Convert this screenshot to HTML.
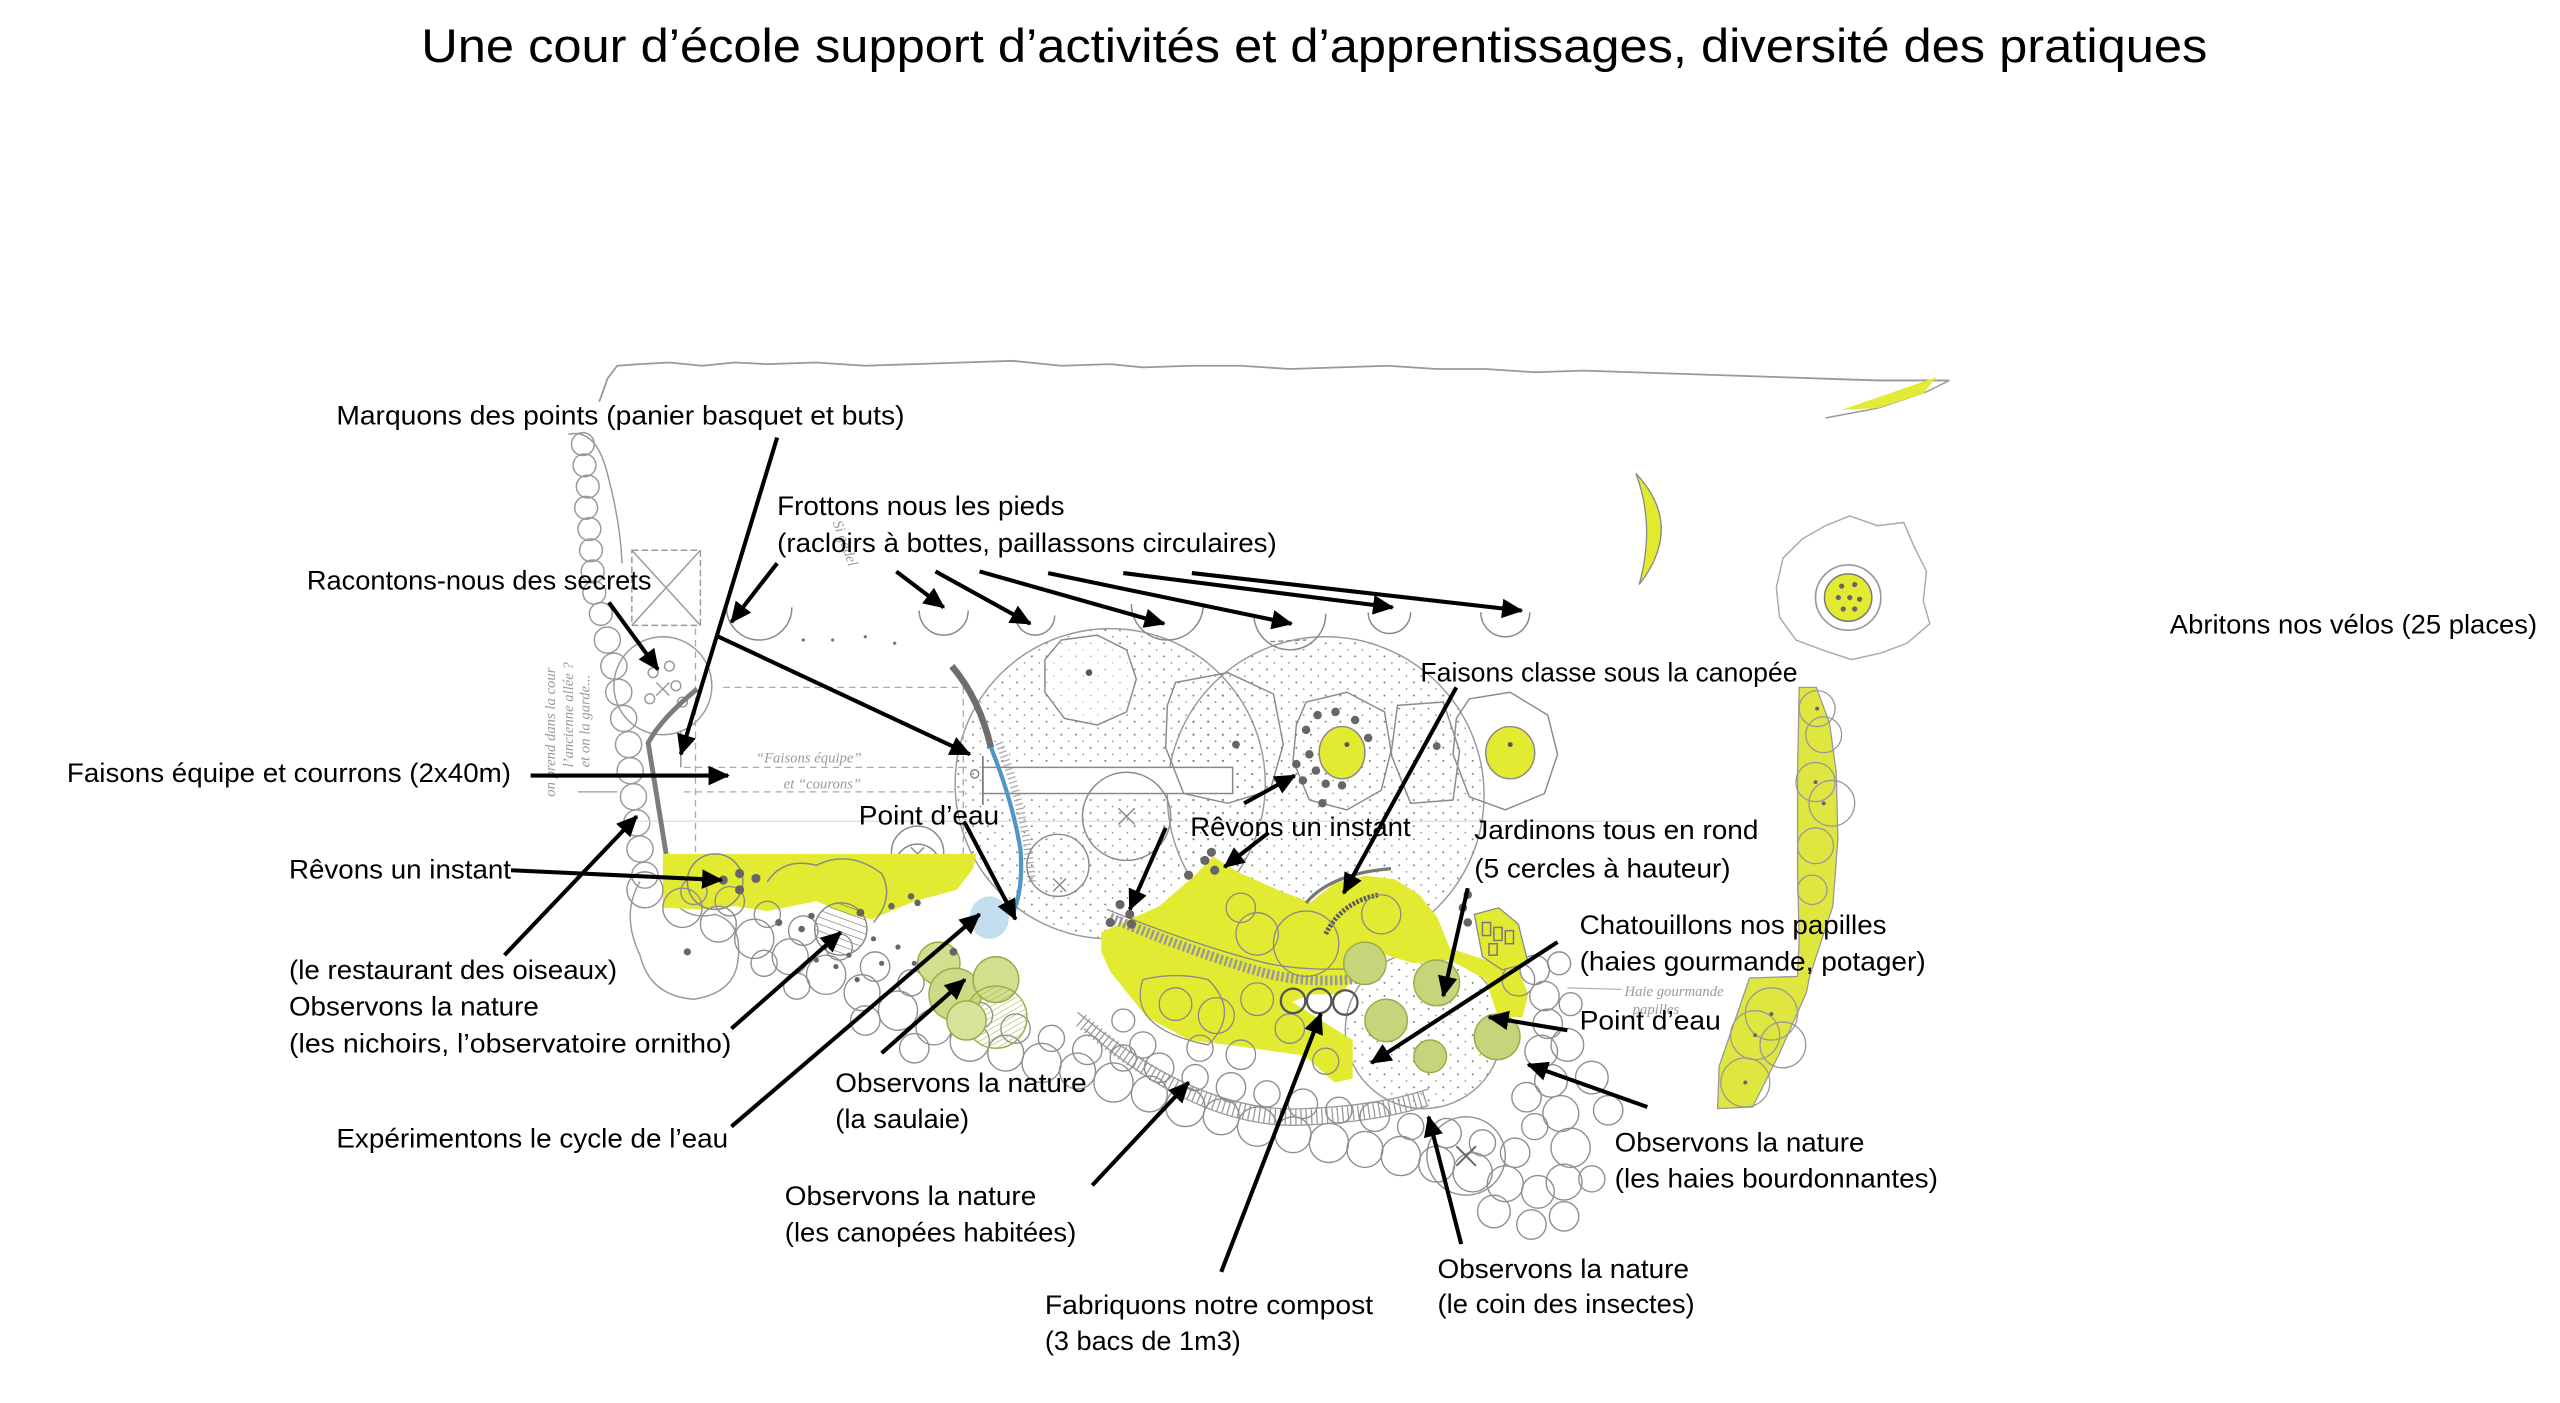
<!DOCTYPE html>
<html><head><meta charset="utf-8">
<style>
html,body{margin:0;padding:0;background:#fff;}
svg{display:block;}
.lb{font-family:"Liberation Sans",Arial,sans-serif;font-size:16.5px;fill:#000;}
.hw{font-family:"Liberation Serif",serif;font-style:italic;font-size:9px;fill:#9a9a9a;}
</style></head>
<body>
<svg xmlns="http://www.w3.org/2000/svg" width="2560" height="1403" viewBox="0 0 1568 859.3" preserveAspectRatio="none">
<defs>
<marker id="ah" markerUnits="userSpaceOnUse" markerWidth="14" markerHeight="12" refX="12" refY="6" orient="auto"><path d="M0,0 L13,6 L0,12 Z" fill="#000"/></marker>
<pattern id="dots" width="9" height="8" patternUnits="userSpaceOnUse"><circle cx="2" cy="2" r="0.6" fill="#777"/><circle cx="6.5" cy="6" r="0.5" fill="#888"/></pattern>
<pattern id="hatch" width="4" height="4" patternUnits="userSpaceOnUse" patternTransform="rotate(20)"><line x1="0" y1="0" x2="4" y2="0" stroke="#777" stroke-width="0.8"/></pattern>
<pattern id="ghatch" width="3" height="3" patternUnits="userSpaceOnUse" patternTransform="rotate(60)"><line x1="0" y1="0" x2="0" y2="3" stroke="#9fb548" stroke-width="0.7"/></pattern>
</defs>
<rect x="0" y="0" width="1568" height="860" fill="#fff"/>

<!-- Title -->
<text x="258" y="38" font-family="Liberation Sans, Arial, sans-serif" font-size="29" textLength="1094" lengthAdjust="spacingAndGlyphs" fill="#000">Une cour d’école support d’activités et d’apprentissages, diversité des pratiques</text>

<!-- ============ SKETCH ============ -->
<g fill="none" stroke="#8c8c8c" stroke-width="0.9">
  <polyline points="367,246 370,238 372,232 378,224 392,223 410,222 430,224 450,222 470,223 500,222 530,224 560,223 590,222 620,221 650,224 680,223 700,225 730,224 760,224 790,226 820,225 850,224 880,226 910,226 940,228 970,227 1000,228 1030,229 1060,230 1090,231 1120,232 1150,233 1175,233 1194,233" stroke="#999" stroke-width="1.1"/>
  <path d="M1194,233 L1180,240 L1150,250 L1118,256" stroke="#999"/>
</g>
<path d="M1128,251 L1160,240 L1186,231 L1178,241 L1150,250 Z" fill="#e4eb34"/>
<path d="M1002,290 Q1032,322 1004,358 Q1014,322 1002,290 Z" fill="#e2ea30" stroke="#888" stroke-width="0.8"/>
<!-- bike shelter -->
<path d="M1133,316 L1150,322 L1166,320 L1172,334 L1180,350 L1178,368 L1182,382 L1168,394 L1152,400 L1134,404 L1116,398 L1100,392 L1090,378 L1088,360 L1092,342 L1104,330 L1118,322 Z" fill="none" stroke="#aaa" stroke-width="0.9"/>
<circle cx="1132" cy="366" r="20" fill="none" stroke="#999" stroke-width="1"/>
<circle cx="1132" cy="366" r="14.5" fill="#e2ea32" stroke="#777" stroke-width="0.9"/>
<g fill="#666"><circle cx="1128" cy="359" r="1.6"/><circle cx="1136" cy="358" r="1.6"/><circle cx="1126" cy="366" r="1.6"/><circle cx="1133" cy="366" r="1.6"/><circle cx="1139" cy="367" r="1.6"/><circle cx="1129" cy="373" r="1.6"/><circle cx="1136" cy="373" r="1.6"/></g>

<!-- right yellow strip -->
<path d="M1102,421 L1112.5,421 L1120.6,443 L1124.7,473 L1125.7,514 L1122.6,555 L1108.4,598 L1106.4,608 L1090,645 L1073.5,678 L1052,679 L1053,653 L1071.6,599 L1101,598 L1102,575 L1101,535 L1101,473 Z" fill="#dfe640" stroke="#999" stroke-width="0.8"/>
<g fill="none" stroke="#999" stroke-width="0.8">
<circle cx="1113" cy="434" r="11"/><circle cx="1117" cy="450" r="11"/><circle cx="1112" cy="479" r="12"/><circle cx="1122" cy="492" r="14"/><circle cx="1112" cy="518" r="11"/><circle cx="1110" cy="545" r="9"/>
<circle cx="1085" cy="621" r="16"/><circle cx="1075" cy="634" r="15"/><circle cx="1069" cy="663" r="15"/><circle cx="1092" cy="640" r="14"/>
</g>
<g fill="#666"><circle cx="1113" cy="434" r="1.2"/><circle cx="1112" cy="479" r="1.2"/><circle cx="1117" cy="492" r="1.2"/><circle cx="1085" cy="621" r="1.2"/><circle cx="1075" cy="634" r="1.2"/><circle cx="1069" cy="663" r="1.2"/></g>

<!-- canopy big dotted circles -->
<circle cx="680" cy="480" r="95" fill="url(#dots)" stroke="#9a9a9a" stroke-width="0.9"/>
<circle cx="812" cy="487" r="97" fill="url(#dots)" stroke="#9a9a9a" stroke-width="0.9"/>
<circle cx="872" cy="631" r="48" fill="url(#dots)" stroke="#9a9a9a" stroke-width="0.9"/>

<!-- U semicircles -->
<g fill="none" stroke="#888" stroke-width="0.9">
<path d="M445,372 A20,20 0 0 0 485,372"/>
<path d="M563,374 A15,15 0 0 0 593,374"/>
<path d="M622,377 A12,12 0 0 0 646,377"/>
<path d="M693,370 A22,22 0 0 0 737,370"/>
<path d="M768,376 A22,22 0 0 0 812,376"/>
<path d="M838,375 A13,13 0 0 0 864,375"/>
<path d="M907,375 A15,15 0 0 0 937,375"/>
<path d="M778,393 L800,392" stroke-dasharray="3 2"/>
</g>
<g fill="#777"><circle cx="510" cy="392" r="1"/><circle cx="530" cy="390" r="1"/><circle cx="548" cy="394" r="1"/><circle cx="492" cy="392" r="1"/></g>

<!-- left column -->
<g fill="none" stroke="#999" stroke-width="0.9">
<circle cx="357" cy="272" r="7"/><circle cx="358" cy="285" r="7"/><circle cx="360" cy="298" r="7"/><circle cx="359" cy="311" r="7"/><circle cx="361" cy="324" r="7"/><circle cx="362" cy="337" r="7"/><circle cx="363" cy="350" r="7"/><circle cx="364" cy="363" r="7"/><circle cx="368" cy="376" r="7"/>
<circle cx="372" cy="392" r="8"/><circle cx="376" cy="408" r="8"/><circle cx="379" cy="424" r="8"/><circle cx="382" cy="440" r="8"/><circle cx="385" cy="456" r="8"/><circle cx="386" cy="472" r="8"/><circle cx="388" cy="488" r="8"/><circle cx="390" cy="504" r="8"/><circle cx="392" cy="520" r="8"/><circle cx="395" cy="536" r="8"/>
<path d="M348,266 Q365,262 372,290 Q380,320 381,345"/>
<rect x="387" y="337" width="42" height="46" stroke-dasharray="4 2"/>
<path d="M387,337 L429,383 M429,337 L387,383"/>
<circle cx="406" cy="420" r="30"/>
<circle cx="400" cy="412" r="3"/><circle cx="410" cy="408" r="3"/><circle cx="414" cy="420" r="3"/><circle cx="398" cy="428" r="3"/><circle cx="418" cy="430" r="3"/>
<path d="M402,418 L410,426 M410,418 L402,426"/>
<path d="M392,540 Q380,560 392,585 Q398,610 425,612 Q450,608 452,588 Q455,565 438,560 Q418,565 408,545"/>
</g>
<!-- dashed lines / road -->
<g fill="none" stroke="#aaa" stroke-width="0.8" stroke-dasharray="4 3">
<line x1="443" y1="421" x2="592" y2="421"/>
<line x1="419" y1="470" x2="592" y2="470"/>
<line x1="419" y1="485" x2="592" y2="485"/>
<line x1="426" y1="385" x2="426" y2="523"/>
<line x1="590" y1="421" x2="590" y2="523"/>
</g>
<line x1="354" y1="485" x2="378" y2="485" stroke="#999" stroke-width="0.8"/>
<line x1="380" y1="503" x2="1000" y2="503" stroke="#ddd" stroke-width="0.8"/>
<rect x="602" y="470" width="153" height="16" fill="#fff" stroke="#888" stroke-width="0.9"/>
<line x1="602" y1="463" x2="602" y2="493" stroke="#777" stroke-width="1"/>
<circle cx="597" cy="474" r="2.5" fill="none" stroke="#777" stroke-width="0.8"/>
<line x1="417" y1="448" x2="417" y2="470" stroke="#888" stroke-width="0.8"/>
<path d="M427,422 Q405,440 397,455 L408,523" fill="none" stroke="#7c7c7c" stroke-width="3"/>

<!-- stream -->
<path d="M583,408 Q600,428 607,458" fill="none" stroke="#6e6e6e" stroke-width="4"/>
<path d="M607,458 Q620,490 625,520 Q627,545 620,560" fill="none" stroke="#4f97c4" stroke-width="2.6"/>
<ellipse cx="606" cy="562" rx="12" ry="13" fill="#a8d0e8" opacity="0.7"/>
<path d="M612,455 Q628,495 632,540" fill="none" stroke="#aaa" stroke-width="5" stroke-dasharray="0.8 2"/>

<!-- other canopy circles -->
<g fill="none" stroke="#8a8a8a" stroke-width="0.9">
<path d="M650,392 L672,389 L690,398 L696,416 L690,436 L672,444 L652,440 L640,424 L640,404 Z" fill="#fff" fill-opacity="0.5"/>
<circle cx="690" cy="500" r="27"/>
<path d="M685,495 L695,505 M695,495 L685,505"/>
<path d="M800,430 L825,424 L848,436 L852,460 L846,484 L825,496 L802,490 L792,466 L794,444 Z"/>
<path d="M900,428 L925,424 L948,438 L954,462 L946,486 L922,496 L900,488 L890,462 L892,440 Z"/>
<path d="M720,418 L752,412 L780,425 L786,456 L778,484 L752,492 L725,486 L714,458 L715,432 Z"/>
<path d="M856,432 L884,430 L894,460 L890,490 L864,492 L852,462 Z"/>
<circle cx="648" cy="530" r="19"/>
<path d="M645,538 L653,546 M653,538 L645,546"/>
<circle cx="562" cy="522" r="16"/>
<path d="M558,519 L566,527 M566,519 L558,527"/>
<circle cx="562" cy="531" r="14"/>
</g>
<circle cx="667" cy="412" r="2" fill="#555"/>

<!-- left yellow band -->
<path d="M406,523 L598,523 L596,532 L586,545 L560,552 L534,563 L520,560 L500,552 L480,556 L470,558 L450,555 L430,557 L406,556 Z" fill="#e2ea32"/>
<circle cx="515" cy="569" r="16" fill="url(#hatch)" stroke="#888" stroke-width="0.9"/>
<g fill="none" stroke="#888" stroke-width="0.9">
<path d="M470,540 Q480,525 500,530 Q520,520 540,535 Q548,550 535,565"/>
<circle cx="438" cy="540" r="17"/>
</g>

<!-- central yellow blob -->
<path d="M674.5,571 L710,555 L732,536 L743,524.5 L758,534 L784,545.6 L802.6,552.7 L817.4,541 L836,536.3 L854.5,538.6 L869.4,548 L880.5,562 L888,580.8 L910,588 L928.7,590 L936,609 L932.5,623 L917.6,623 L910,600 L888,588 L865.6,590 L843,583 L821,609 L802.6,609 L791.4,613.6 L810,625.4 L828.5,637 L828.5,660.6 L817.4,663 L798.8,646.5 L765.5,641.8 L728.4,637 L702.4,623 L691.2,609 L680,595 L674.5,583 Z" fill="#e2ea32"/>
<ellipse cx="822" cy="461" rx="14" ry="16" fill="#e2ea32" stroke="#888" stroke-width="0.9"/>
<ellipse cx="925" cy="461" rx="15" ry="16" fill="#e2ea32" stroke="#888" stroke-width="0.9"/>
<circle cx="825" cy="456" r="1.5" fill="#555"/><circle cx="925" cy="456" r="1.5" fill="#555"/>
<path d="M680,562 Q735,585 775,596 Q805,604 845,598" fill="none" stroke="#999" stroke-width="6" stroke-dasharray="1.5 1.5"/>
<path d="M678,557 Q735,580 776,590 Q805,596 845,592" fill="none" stroke="#888" stroke-width="0.8"/>
<path d="M812,572 Q822,552 845,548" fill="none" stroke="#5a5a5a" stroke-width="3" stroke-dasharray="1.5 1"/>
<path d="M800,553 Q815,535 852,532" fill="none" stroke="#777" stroke-width="2"/>
<g fill="none" stroke="#8a8a8a" stroke-width="0.8">
<circle cx="770" cy="572" r="13"/><circle cx="800" cy="578" r="20"/><circle cx="760" cy="556" r="9"/><circle cx="846" cy="560" r="12"/>
<path d="M700,600 Q690,630 740,640 Q760,620 740,600 Q720,595 700,600"/>
<circle cx="720" cy="615" r="10"/><circle cx="745" cy="622" r="11"/><circle cx="770" cy="612" r="10"/><circle cx="790" cy="630" r="9"/><circle cx="735" cy="642" r="8"/><circle cx="760" cy="646" r="9"/><circle cx="812" cy="650" r="8"/><circle cx="700" cy="640" r="8"/><circle cx="688" cy="625" r="7"/>
</g>
<g fill="none" stroke="#555" stroke-width="1.4">
<circle cx="792" cy="613" r="7.5"/><circle cx="808" cy="613" r="7.5"/><circle cx="824" cy="614" r="7.5"/>
</g>

<!-- hatched arc band -->
<path d="M662,625 Q735,688 800,684 Q845,682 875,672" fill="none" stroke="#999" stroke-width="9" stroke-dasharray="0.8 2.4"/>
<path d="M660,620 Q735,683 800,679 Q845,677 875,667" fill="none" stroke="#999" stroke-width="0.8"/>
<path d="M664,630 Q735,693 800,689 Q845,687 875,677" fill="none" stroke="#999" stroke-width="0.8"/>

<!-- hedge circles -->
<g fill="none" stroke="#8e8e8e" stroke-width="0.85">
<circle cx="395" cy="545" r="11"/><circle cx="418" cy="556" r="12"/><circle cx="440" cy="566" r="11"/><circle cx="462" cy="575" r="12"/><circle cx="484" cy="586" r="11"/><circle cx="506" cy="597" r="12"/><circle cx="528" cy="608" r="11"/><circle cx="550" cy="619" r="12"/><circle cx="572" cy="629" r="11"/><circle cx="594" cy="638" r="12"/><circle cx="616" cy="645" r="11"/><circle cx="638" cy="651" r="12"/><circle cx="660" cy="656" r="11"/><circle cx="682" cy="663" r="12"/><circle cx="704" cy="670" r="11"/><circle cx="726" cy="678" r="12"/><circle cx="748" cy="684" r="11"/><circle cx="770" cy="690" r="12"/><circle cx="792" cy="695" r="11"/><circle cx="814" cy="700" r="12"/><circle cx="836" cy="704" r="11"/><circle cx="858" cy="708" r="12"/><circle cx="880" cy="713" r="11"/><circle cx="902" cy="718" r="12"/><circle cx="922" cy="725" r="11"/><circle cx="942" cy="730" r="10"/><circle cx="958" cy="724" r="11"/><circle cx="962" cy="703" r="12"/><circle cx="956" cy="682" r="11"/><circle cx="950" cy="662" r="10"/><circle cx="944" cy="644" r="10"/><circle cx="948" cy="627" r="9"/><circle cx="946" cy="610" r="9"/><circle cx="940" cy="594" r="9"/>
<circle cx="425" cy="546" r="8"/><circle cx="447" cy="552" r="9"/><circle cx="470" cy="560" r="8"/><circle cx="492" cy="570" r="9"/><circle cx="514" cy="580" r="8"/><circle cx="536" cy="592" r="9"/><circle cx="558" cy="602" r="8"/><circle cx="580" cy="612" r="9"/><circle cx="600" cy="622" r="8"/><circle cx="622" cy="630" r="9"/><circle cx="644" cy="636" r="8"/><circle cx="666" cy="643" r="9"/><circle cx="688" cy="648" r="8"/><circle cx="710" cy="654" r="9"/><circle cx="732" cy="660" r="8"/><circle cx="754" cy="666" r="9"/><circle cx="776" cy="670" r="8"/><circle cx="798" cy="676" r="9"/><circle cx="820" cy="680" r="8"/><circle cx="842" cy="684" r="9"/><circle cx="864" cy="690" r="8"/><circle cx="886" cy="694" r="9"/><circle cx="908" cy="700" r="8"/><circle cx="928" cy="706" r="9"/><circle cx="940" cy="690" r="8"/><circle cx="935" cy="672" r="9"/>
<circle cx="898" cy="708" r="24"/><circle cx="915" cy="742" r="10"/><circle cx="938" cy="750" r="9"/><circle cx="958" cy="745" r="9"/><circle cx="975" cy="722" r="8"/>
<circle cx="930" cy="600" r="10"/><circle cx="960" cy="640" r="10"/><circle cx="975" cy="660" r="10"/><circle cx="985" cy="680" r="9"/><circle cx="955" cy="590" r="7"/><circle cx="962" cy="615" r="7"/>
<circle cx="468" cy="590" r="8"/><circle cx="488" cy="604" r="8"/><circle cx="530" cy="625" r="9"/><circle cx="560" cy="642" r="9"/>
</g>
<path d="M892,702 L904,714 M904,702 L892,714" stroke="#666" stroke-width="1.2"/>

<!-- green circles -->
<g stroke="#98ad4a" stroke-width="0.9">
<circle cx="575" cy="590" r="13" fill="#d3df8e"/>
<circle cx="585" cy="609" r="16" fill="#cddb86"/>
<circle cx="610" cy="600" r="14" fill="#d3df8e"/>
<circle cx="610" cy="623" r="19" fill="url(#ghatch)"/>
<circle cx="592" cy="625" r="12" fill="#d8e39a"/>
<circle cx="836" cy="590" r="13" fill="#c4d57c"/>
<circle cx="849" cy="625" r="13" fill="#c4d57c"/>
<circle cx="880" cy="602" r="14" fill="#c4d57c"/>
<circle cx="876" cy="647" r="10" fill="#c4d57c"/>
<circle cx="917" cy="635" r="14" fill="#c4d57c"/>
</g>
<path d="M903,560 L918,556 L930,566 L936,590 L920,594 L908,586 Z" fill="#e2ea32" stroke="#888" stroke-width="0.8"/>
<g stroke="#777" stroke-width="0.9" fill="none"><rect x="908" y="565" width="5" height="8"/><rect x="915" y="568" width="5" height="8"/><rect x="922" y="570" width="5" height="8"/><rect x="912" y="578" width="5" height="7"/></g>

<!-- dark dots -->
<g fill="#666">
<circle cx="800" cy="447" r="2.6"/><circle cx="807" cy="438" r="2.6"/><circle cx="818" cy="436" r="2.6"/><circle cx="830" cy="441" r="2.6"/><circle cx="838" cy="452" r="2.6"/><circle cx="802" cy="462" r="2.6"/><circle cx="806" cy="472" r="2.6"/><circle cx="812" cy="480" r="2.6"/><circle cx="798" cy="478" r="2.6"/><circle cx="822" cy="481" r="2.6"/><circle cx="810" cy="492" r="2.6"/><circle cx="794" cy="468" r="2.6"/><circle cx="757" cy="456" r="2.4"/><circle cx="880" cy="457" r="2.4"/>
<circle cx="686" cy="554" r="2.8"/><circle cx="692" cy="560" r="2.8"/><circle cx="680" cy="565" r="2.8"/><circle cx="693" cy="566" r="2.8"/>
<circle cx="738" cy="527" r="2.8"/><circle cx="744" cy="533" r="2.8"/><circle cx="728" cy="536" r="2.8"/><circle cx="742" cy="522" r="2.8"/>
<circle cx="899" cy="548" r="2.6"/><circle cx="896" cy="556" r="2.6"/><circle cx="899" cy="565" r="2.6"/>
<circle cx="443" cy="539" r="2.8"/><circle cx="453" cy="535" r="2.8"/><circle cx="453" cy="545" r="2.8"/><circle cx="463" cy="538" r="2.8"/>
<circle cx="421" cy="583" r="2.2"/><circle cx="477" cy="565" r="2.2"/><circle cx="491" cy="569" r="2"/><circle cx="497" cy="561" r="2"/><circle cx="527" cy="559" r="2.4"/><circle cx="546" cy="555" r="2"/><circle cx="558" cy="549" r="2"/><circle cx="562" cy="553" r="2"/><circle cx="584" cy="583" r="2.4"/>
<circle cx="505" cy="580" r="1.6"/><circle cx="500" cy="588" r="1.6"/><circle cx="520" cy="585" r="1.6"/><circle cx="535" cy="575" r="1.6"/><circle cx="540" cy="590" r="1.6"/><circle cx="550" cy="580" r="1.6"/><circle cx="560" cy="590" r="1.6"/><circle cx="525" cy="600" r="1.6"/><circle cx="512" cy="592" r="1.6"/>
</g>

<!-- faint handwriting -->
<text class="hw" transform="translate(340,488) rotate(-90)">on prend dans la cour</text>
<text class="hw" transform="translate(351,470) rotate(-90)">l’ancienne allée ?</text>
<text class="hw" transform="translate(361,470) rotate(-90)">et on la garde...</text>
<text class="hw" x="463" y="467">“Faisons équipe”</text>
<text class="hw" x="480" y="483">et “courons”</text>
<text class="hw" x="995" y="610">Haie gourmande</text>
<text class="hw" x="1000" y="621">papilles</text>
<text class="hw" transform="translate(510,320) rotate(70)">Si gadel</text>
<line x1="960" y1="605" x2="993" y2="606" stroke="#aaa" stroke-width="0.7"/>

<!-- ============ ARROWS ============ -->
<g stroke="#000" stroke-width="2.5" fill="none" marker-end="url(#ah)">
<line x1="476" y1="268" x2="417" y2="462"/>
<line x1="438" y1="389" x2="594" y2="462"/>
<line x1="476" y1="345" x2="448" y2="381"/>
<line x1="549" y1="350" x2="578" y2="372"/>
<line x1="573" y1="350" x2="631" y2="382"/>
<line x1="600" y1="350" x2="713" y2="382"/>
<line x1="642" y1="351" x2="791" y2="382"/>
<line x1="688" y1="351" x2="853" y2="372"/>
<line x1="730" y1="351" x2="932" y2="374"/>
<line x1="373" y1="369" x2="403" y2="410"/>
<line x1="325" y1="475" x2="446" y2="475"/>
<line x1="892" y1="421" x2="823" y2="547"/>
<line x1="762" y1="492" x2="793" y2="475"/>
<line x1="777" y1="510" x2="750" y2="531"/>
<line x1="714" y1="507" x2="692" y2="557"/>
<line x1="591" y1="504" x2="622" y2="563"/>
<line x1="899" y1="544" x2="884" y2="610"/>
<line x1="954" y1="577" x2="840" y2="651"/>
<line x1="960" y1="631" x2="912" y2="623"/>
<line x1="1009" y1="678" x2="936" y2="652"/>
<line x1="895" y1="762" x2="875" y2="684"/>
<line x1="748" y1="779" x2="809" y2="621"/>
<line x1="669" y1="726" x2="728" y2="663"/>
<line x1="313" y1="533" x2="442" y2="539"/>
<line x1="309" y1="585" x2="390" y2="500"/>
<line x1="448" y1="630" x2="515" y2="571"/>
<line x1="448" y1="690" x2="600" y2="560"/>
<line x1="540" y1="645" x2="591" y2="600"/>
</g>

<!-- ============ LABELS ============ -->
<g class="lb">
<text x="206" y="260" textLength="348" lengthAdjust="spacingAndGlyphs">Marquons des points (panier basquet et buts)</text>
<text x="476" y="315.5" textLength="176" lengthAdjust="spacingAndGlyphs">Frottons nous les pieds</text>
<text x="476" y="338" textLength="306" lengthAdjust="spacingAndGlyphs">(racloirs à bottes, paillassons circulaires)</text>
<text x="188" y="361" textLength="211" lengthAdjust="spacingAndGlyphs">Racontons-nous des secrets</text>
<text x="1329" y="388" textLength="225" lengthAdjust="spacingAndGlyphs">Abritons nos vélos (25 places)</text>
<text x="870" y="417.5" textLength="231" lengthAdjust="spacingAndGlyphs">Faisons classe sous la canopée</text>
<text x="41" y="479" textLength="272" lengthAdjust="spacingAndGlyphs">Faisons équipe et courrons (2x40m)</text>
<text x="526" y="505" textLength="86" lengthAdjust="spacingAndGlyphs">Point d’eau</text>
<text x="729" y="512" textLength="135" lengthAdjust="spacingAndGlyphs">Rêvons un instant</text>
<text x="903" y="514" textLength="174" lengthAdjust="spacingAndGlyphs">Jardinons tous en rond</text>
<text x="903" y="537.5" textLength="157" lengthAdjust="spacingAndGlyphs">(5 cercles à hauteur)</text>
<text x="177" y="538" textLength="136" lengthAdjust="spacingAndGlyphs">Rêvons un instant</text>
<text x="967.5" y="572" textLength="188" lengthAdjust="spacingAndGlyphs">Chatouillons nos papilles</text>
<text x="967.5" y="594.5" textLength="212" lengthAdjust="spacingAndGlyphs">(haies gourmande, potager)</text>
<text x="177" y="599.5" textLength="201" lengthAdjust="spacingAndGlyphs">(le restaurant des oiseaux)</text>
<text x="177" y="622" textLength="153" lengthAdjust="spacingAndGlyphs">Observons la nature</text>
<text x="177" y="644.5" textLength="271" lengthAdjust="spacingAndGlyphs">(les nichoirs, l’observatoire ornitho)</text>
<text x="967.5" y="630.5" textLength="86.5" lengthAdjust="spacingAndGlyphs">Point d’eau</text>
<text x="511.6" y="668.7" textLength="154" lengthAdjust="spacingAndGlyphs">Observons la nature</text>
<text x="511.6" y="691" textLength="82" lengthAdjust="spacingAndGlyphs">(la saulaie)</text>
<text x="206" y="702.8" textLength="240" lengthAdjust="spacingAndGlyphs">Expérimentons le cycle de l’eau</text>
<text x="989" y="705.2" textLength="153" lengthAdjust="spacingAndGlyphs">Observons la nature</text>
<text x="989" y="727.4" textLength="198" lengthAdjust="spacingAndGlyphs">(les haies bourdonnantes)</text>
<text x="480.7" y="738" textLength="154" lengthAdjust="spacingAndGlyphs">Observons la nature</text>
<text x="480.7" y="760.3" textLength="178.5" lengthAdjust="spacingAndGlyphs">(les canopées habitées)</text>
<text x="880.5" y="782.6" textLength="154" lengthAdjust="spacingAndGlyphs">Observons la nature</text>
<text x="880.5" y="804.2" textLength="157.5" lengthAdjust="spacingAndGlyphs">(le coin des insectes)</text>
<text x="640" y="804.7" textLength="201" lengthAdjust="spacingAndGlyphs">Fabriquons notre compost</text>
<text x="640" y="827" textLength="120" lengthAdjust="spacingAndGlyphs">(3 bacs de 1m3)</text>
</g>
</svg>
</body></html>
